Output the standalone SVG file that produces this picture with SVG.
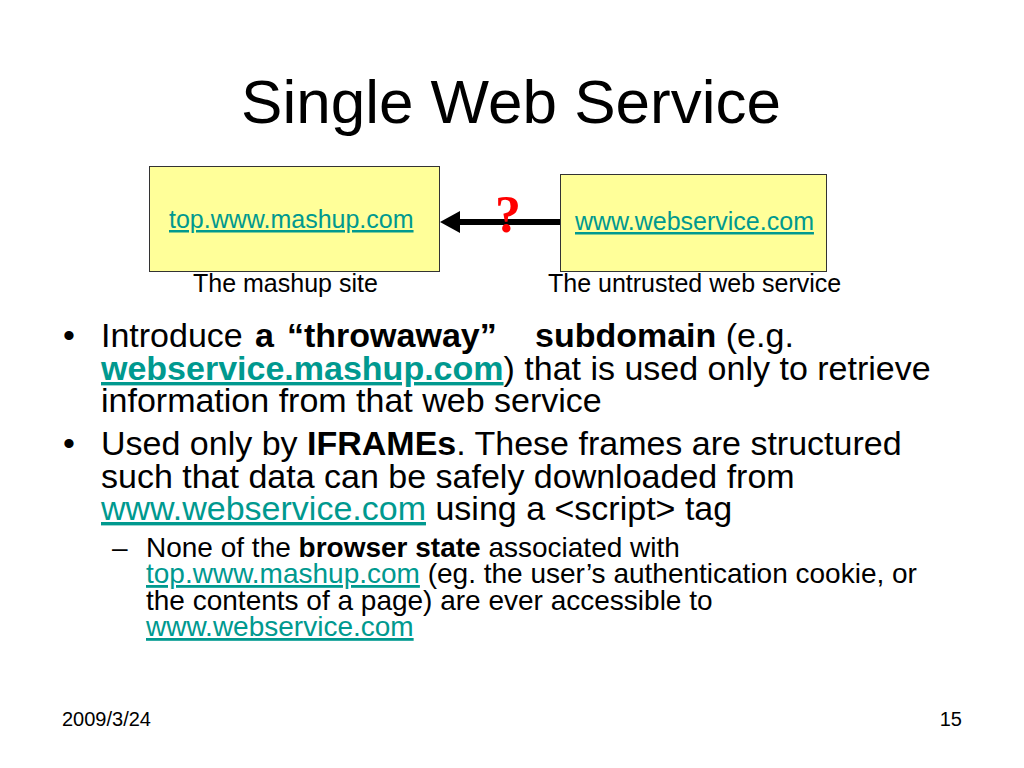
<svg xmlns="http://www.w3.org/2000/svg" width="1024" height="768" viewBox="0 0 1024 768">
<style>
text{font-family:"Liberation Sans",Arial,sans-serif;fill:#000}
.box{fill:#FFFF99;stroke:#333;stroke-width:1}
.lnk{fill:#00998f;text-decoration:underline}
.b{font-weight:bold}
.body{font-size:34px}
.sub{font-size:28px}
.lbl{font-size:25px}
</style>
<rect width="1024" height="768" fill="#fff"/>
<text x="511" y="123" font-size="62" text-anchor="middle">Single Web Service</text>
<g id="connectors">
<line x1="560" y1="222" x2="456" y2="222" stroke="#000" stroke-width="6"/>
<polygon points="440,222 460,211 460,233" fill="#000"/>
<text x="508" y="232" font-size="52" text-anchor="middle" style="font-family:'Liberation Serif',serif;font-weight:bold;fill:#ff0000">?</text>
</g>
<g id="node-mashup">
<rect class="box" x="149.500" y="166.500" width="290" height="105"/>
<text class="lbl" x="169" y="228"><tspan class="lnk">top.www.mashup.com</tspan></text>
<text class="lbl" x="193" y="292">The mashup site</text>
</g>
<g id="node-webservice">
<rect class="box" x="560.500" y="174.500" width="266" height="97"/>
<text class="lbl" x="575" y="230"><tspan class="lnk">www.webservice.com</tspan></text>
<text class="lbl" x="548" y="292">The untrusted web service</text>
</g>
<g id="bullets">
<text class="body" x="63" y="347">•</text>
<text class="body" y="347"><tspan x="101">Introduce</tspan><tspan class="b" x="255">a</tspan><tspan class="b" x="287">“throwaway”</tspan><tspan class="b" x="535">subdomain</tspan> (e.g.</text>
<text class="body" x="101" y="380"><tspan class="lnk b">webservice.mashup.com</tspan>) that is used only to retrieve</text>
<text class="body" x="101" y="412">information from that web service</text>
<text class="body" x="63" y="455">•</text>
<text class="body" x="101" y="455">Used only by <tspan class="b">IFRAMEs</tspan>. These frames are structured</text>
<text class="body" x="101" y="488">such that data can be safely downloaded from</text>
<text class="body" x="101" y="520"><tspan class="lnk">www.webservice.com</tspan> using a &lt;script&gt; tag</text>
<text class="sub" x="112" y="557">–</text>
<text class="sub" x="146" y="557">None of the <tspan class="b">browser state</tspan> associated with</text>
<text class="sub" x="146" y="583"><tspan class="lnk">top.www.mashup.com</tspan> (eg. the user’s authentication cookie, or</text>
<text class="sub" x="146" y="610">the contents of a page) are ever accessible to</text>
<text class="sub" x="146" y="636"><tspan class="lnk">www.webservice.com</tspan></text>
</g>
<text x="62" y="726" font-size="20">2009/3/24</text>
<text x="962" y="726" font-size="20" text-anchor="end">15</text>
</svg>
